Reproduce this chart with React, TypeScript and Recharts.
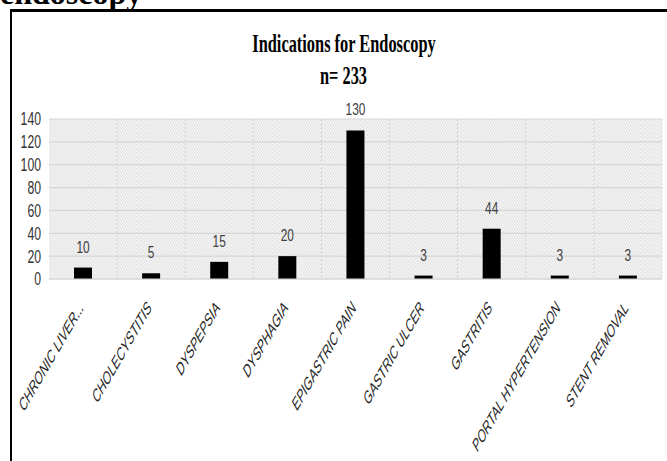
import React from 'react';
import { BarChart, Bar, XAxis, YAxis, CartesianGrid, LabelList } from 'recharts';

const categories = [
  'CHRONIC LIVER...',
  'CHOLECYSTITIS',
  'DYSPEPSIA',
  'DYSPHAGIA',
  'EPIGASTRIC PAIN',
  'GASTRIC ULCER',
  'GASTRITIS',
  'PORTAL HYPERTENSION',
  'STENT REMOVAL',
];
const counts = [10, 5, 15, 20, 130, 3, 44, 3, 3];
const yTicks = [0, 20, 40, 60, 80, 100, 120, 140];
const chartTitle = 'Indications for Endoscopy';
const chartSubtitle = 'n= 233';
const headingText = 'endoscopy';

const data = categories.map((name, i) => ({ name, value: counts[i] }));

const SX = 0.63;
const SANS = 'Liberation Sans, Arial, sans-serif';
const SERIF = 'Liberation Serif, Times New Roman, serif';

const XTick = (props: any) => {
  const { x, y, payload } = props;
  return (
    <text
      transform={`translate(${x + 1},${y + 22}) scale(0.58,1) rotate(-45) scale(0.87,1)`}
      textAnchor="end"
      fontSize={19.5}
      fill="#262626"
      fontFamily={SANS}
    >
      {payload.value}
    </text>
  );
};

const YTick = (props: any) => {
  const { x, y, payload } = props;
  return (
    <text
      transform={`translate(${x},${y}) scale(0.68,1)`}
      textAnchor="end"
      dy="0.36em"
      fontSize={18}
      fill="#333"
      fontFamily={SANS}
    >
      {payload.value}
    </text>
  );
};

const ValueLabel = (props: any) => {
  const { x, y, width, value } = props;
  return (
    <text
      transform={`translate(${Number(x) + Number(width) / 2},${Number(y) - 15}) scale(0.7,1)`}
      textAnchor="middle"
      fontSize={17}
      fill="#404040"
      fontFamily={SANS}
    >
      {value}
    </text>
  );
};

const vGen = (p: any) => {
  const off = p.offset;
  const out: number[] = [];
  for (let k = 1; k <= categories.length; k++) out.push(off.left + (off.width * k) / categories.length);
  return out;
};

export default function App() {
  return (
    <div style={{ position: 'absolute', left: 0, top: 0, width: 667, height: 461, background: '#fff', overflow: 'hidden' }}>
      <svg width={0} height={0} style={{ position: 'absolute' }}>
        <defs>
          <pattern id="hatch" patternUnits="userSpaceOnUse" width={4} height={4} patternTransform="scale(0.63,1)">
            <rect width={4} height={4} fill="#f7f7f7" />
            <path d="M-1,-1 L5,5 M-1,3 L1,5 M3,-1 L5,1" stroke="#d4d4d4" strokeWidth={1} />
          </pattern>
        </defs>
      </svg>
      <BarChart
        width={667}
        height={461}
        data={data}
        margin={{ top: 119, right: 5, bottom: 0, left: 0 }}
        barCategoryGap={0}
      >
        <CartesianGrid horizontal={true} vertical={false} stroke="#d6d6d6" strokeWidth={1.2} fill="url(#hatch)" fillOpacity={1} />
        <CartesianGrid horizontal={false} vertical={true} stroke="#d6d6d6" strokeDasharray="2 2" verticalCoordinatesGenerator={vGen} />
        <XAxis
          dataKey="name"
          height={182}
          interval={0}
          axisLine={{ stroke: '#d6d6d6', strokeWidth: 1.2 }}
          tickLine={false}
          tick={<XTick />}
        />
        <YAxis
          width={49}
          domain={[0, 140]}
          ticks={yTicks}
          interval={0}
          axisLine={false}
          tickLine={false}
          tick={<YTick />}
        />
        <Bar dataKey="value" fill="#000" barSize={18} isAnimationActive={false}>
          <LabelList dataKey="value" content={<ValueLabel />} />
        </Bar>
      </BarChart>
      <svg width={667} height={461} style={{ position: 'absolute', left: 0, top: 0, pointerEvents: 'none' }}>
        <text x={0} y={4} fontSize={32} fontWeight="bold" fontFamily={SERIF} fill="#000">
          {headingText}
        </text>
        <line x1={10} y1={10.5} x2={667} y2={10.5} stroke="#000" strokeWidth={3} />
        <line x1={11} y1={9} x2={11} y2={461} stroke="#000" strokeWidth={2} />
        <text transform={`translate(344,52) scale(${SX},1)`} textAnchor="middle" fontSize={26} fontWeight="bold" fontFamily={SERIF} fill="#000">
          {chartTitle}
        </text>
        <text transform={`translate(343.5,84) scale(${SX},1)`} textAnchor="middle" fontSize={26} fontWeight="bold" fontFamily={SERIF} fill="#000">
          {chartSubtitle}
        </text>
      </svg>
    </div>
  );
}
